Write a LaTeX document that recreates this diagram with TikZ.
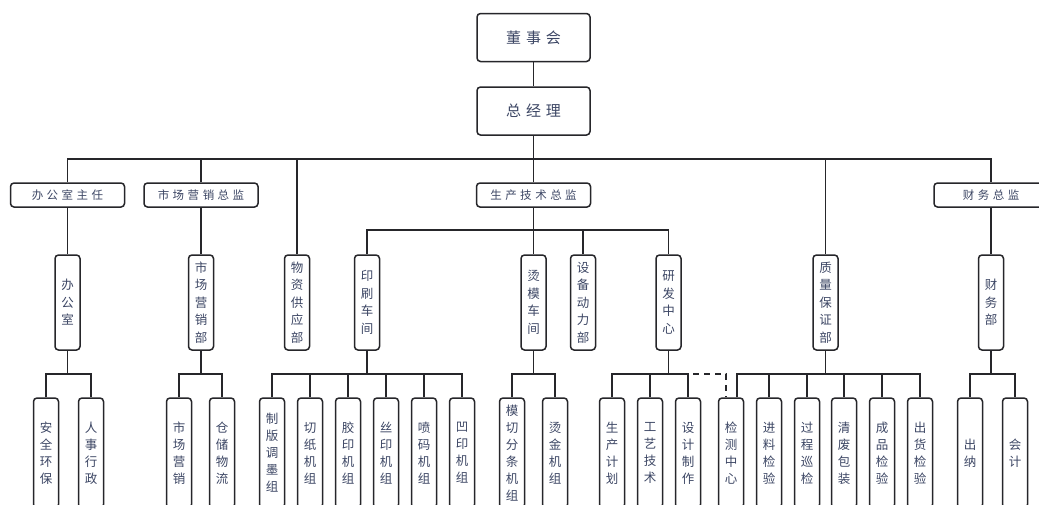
\documentclass[tikz,border=0pt]{standalone}
\usepackage{fontspec}
\newfontfamily\cjk{Noto Sans CJK SC}
\usetikzlibrary{calc}
\definecolor{lc}{RGB}{38,38,42}
\definecolor{tc}{RGB}{60,70,100}
\newcommand\gsp{\hspace{3.5pt}}
\newcommand\gsq{\hspace{5pt}}
\begin{document}
\begin{tikzpicture}[x=1pt,y=-1pt,
  every node/.style={draw=lc,line width=1.5pt,rounded corners=3.5pt,inner sep=0pt,text=tc},
  topbox/.style={minimum width=113,minimum height=48,font=\cjk\fontsize{15}{18}\selectfont},
  midbox/.style={minimum width=114,minimum height=24,font=\cjk\fontsize{11.5}{14}\selectfont},
  vbox/.style={minimum width=25,minimum height=95,align=center,font=\cjk\fontsize{12.5}{17.5}\selectfont},
  leaf/.style={minimum width=25,minimum height=110,align=center,font=\cjk\fontsize{12.5}{17}\selectfont},
  conn/.style={draw=lc,line width=1.5pt},
  dconn/.style={draw=lc,line width=1.5pt,dash pattern=on 6pt off 5pt}]
\useasboundingbox (0,0) rectangle (1039,504);
\clip (0,0) rectangle (1039,504);
\fill[white] (0,0) rectangle (1039,504);
\coordinate (bus) at (0,159);
\coordinate (pbus) at (0,230);
\coordinate (sbus) at (0,374);
% top
\node[topbox] (bd) at (533.5,37.5) {董\gsq 事\gsq 会};
\node[topbox] (gm) at (533.5,111) {总\gsq 经\gsq 理};
% level 2
\node[midbox] (m1) at (67.5,195) {办\gsp 公\gsp 室\gsp 主\gsp 任};
\node[midbox] (m2) at (201,195) {市\gsp 场\gsp 营\gsp 销\gsp 总\gsp 监};
\node[midbox] (m3) at (533.5,195) {生\gsp 产\gsp 技\gsp 术\gsp 总\gsp 监};
\node[midbox] (m4) at (991,195) {财\gsp 务\gsp 总\gsp 监};
% level 3
\node[vbox] (v1) at (67.5,302.5) {办\\公\\室};
\node[vbox] (v2) at (201,302.5) {市\\场\\营\\销\\部};
\node[vbox] (v3) at (297,302.5) {物\\资\\供\\应\\部};
\node[vbox] (v4) at (367,302.5) {印\\刷\\车\\间};
\node[vbox] (v5) at (533.5,302.5) {烫\\模\\车\\间};
\node[vbox] (v6) at (583,302.5) {设\\备\\动\\力\\部};
\node[vbox] (v7) at (668.5,302.5) {研\\发\\中\\心};
\node[vbox] (v8) at (825.5,302.5) {质\\量\\保\\证\\部};
\node[vbox] (v9) at (991,302.5) {财\\务\\部};
% leaves
\node[leaf] (a1) at (46,453) {安\\全\\环\\保};
\node[leaf] (a2) at (91,453) {人\\事\\行\\政};
\node[leaf] (b1) at (179,453) {市\\场\\营\\销};
\node[leaf] (b2) at (222,453) {仓\\储\\物\\流};
\node[leaf] (p1) at (272,453) {制\\版\\调\\墨\\组};
\node[leaf] (p2) at (310,453) {切\\纸\\机\\组};
\node[leaf] (p3) at (348,453) {胶\\印\\机\\组};
\node[leaf] (p4) at (386,453) {丝\\印\\机\\组};
\node[leaf] (p5) at (424,453) {喷\\码\\机\\组};
\node[leaf] (p6) at (462,453) {凹\\印\\机\\组};
\node[leaf] (t1) at (512,453) {模\\切\\分\\条\\机\\组};
\node[leaf] (t2) at (555,453) {烫\\金\\机\\组};
\node[leaf] (r1) at (612,453) {生\\产\\计\\划};
\node[leaf] (r2) at (650,453) {工\\艺\\技\\术};
\node[leaf] (r3) at (688,453) {设\\计\\制\\作};
\node[leaf] (q1) at (731,453) {检\\测\\中\\心};
\node[leaf] (q2) at (769,453) {进\\料\\检\\验};
\node[leaf] (q3) at (807,453) {过\\程\\巡\\检};
\node[leaf] (q4) at (844,453) {清\\废\\包\\装};
\node[leaf] (q5) at (882,453) {成\\品\\检\\验};
\node[leaf] (q6) at (920,453) {出\\货\\检\\验};
\node[leaf] (f1) at (970,453) {出\\纳};
\node[leaf] (f2) at (1015,453) {会\\计};
% connectors top
\path[conn] (bd.south) -- (gm.north);
\path[conn] (gm.south) -- (m3.north);
\path[conn] (m1.north) |- (m4.north |- bus) -- (m4.north);
\path[conn] (m2.north) -- (m2.north |- bus);
\path[conn] (v3.north) -- (v3.north |- bus);
\path[conn] (v8.north) -- (v8.north |- bus);
% level 2 -> 3
\path[conn] (m1.south) -- (v1.north);
\path[conn] (m2.south) -- (v2.north);
\path[conn] (m4.south) -- (v9.north);
\path[conn] (m3.south) -- (v5.north);
\path[conn] (v4.north) |- (v7.north |- pbus) -- (v7.north);
\path[conn] (v6.north) -- (v6.north |- pbus);
% level 3 -> leaves
\path[conn] (v1.south) -- (v1.south |- sbus);
\path[conn] (a1.north) |- (a2.north |- sbus) -- (a2.north);
\path[conn] (v2.south) -- (v2.south |- sbus);
\path[conn] (b1.north) |- (b2.north |- sbus) -- (b2.north);
\path[conn] (v4.south) -- (v4.south |- sbus);
\path[conn] (p1.north) |- (p6.north |- sbus) -- (p6.north);
\foreach \n in {p2,p3,p4,p5} \path[conn] (\n.north) -- (\n.north |- sbus);
\path[conn] (v5.south) -- (v5.south |- sbus);
\path[conn] (t1.north) |- (t2.north |- sbus) -- (t2.north);
\path[conn] (v7.south) -- (v7.south |- sbus);
\path[conn] (r1.north) |- (r3.north |- sbus) -- (r3.north);
\path[conn] (r2.north) -- (r2.north |- sbus);
\path[conn] (v8.south) -- (v8.south |- sbus);
\path[conn] ($(q1.north)+(6,0)$) |- (q6.north |- sbus) -- (q6.north);
\foreach \n in {q2,q3,q4,q5} \path[conn] (\n.north) -- (\n.north |- sbus);
\path[conn] (v9.south) -- (v9.south |- sbus);
\path[conn] (f1.north) |- (f2.north |- sbus) -- (f2.north);
\path[dconn] ($(r3.north |- sbus)+(5,0)$) -| ($(q1.north)+(-5,0)$);
\end{tikzpicture}
\end{document}
